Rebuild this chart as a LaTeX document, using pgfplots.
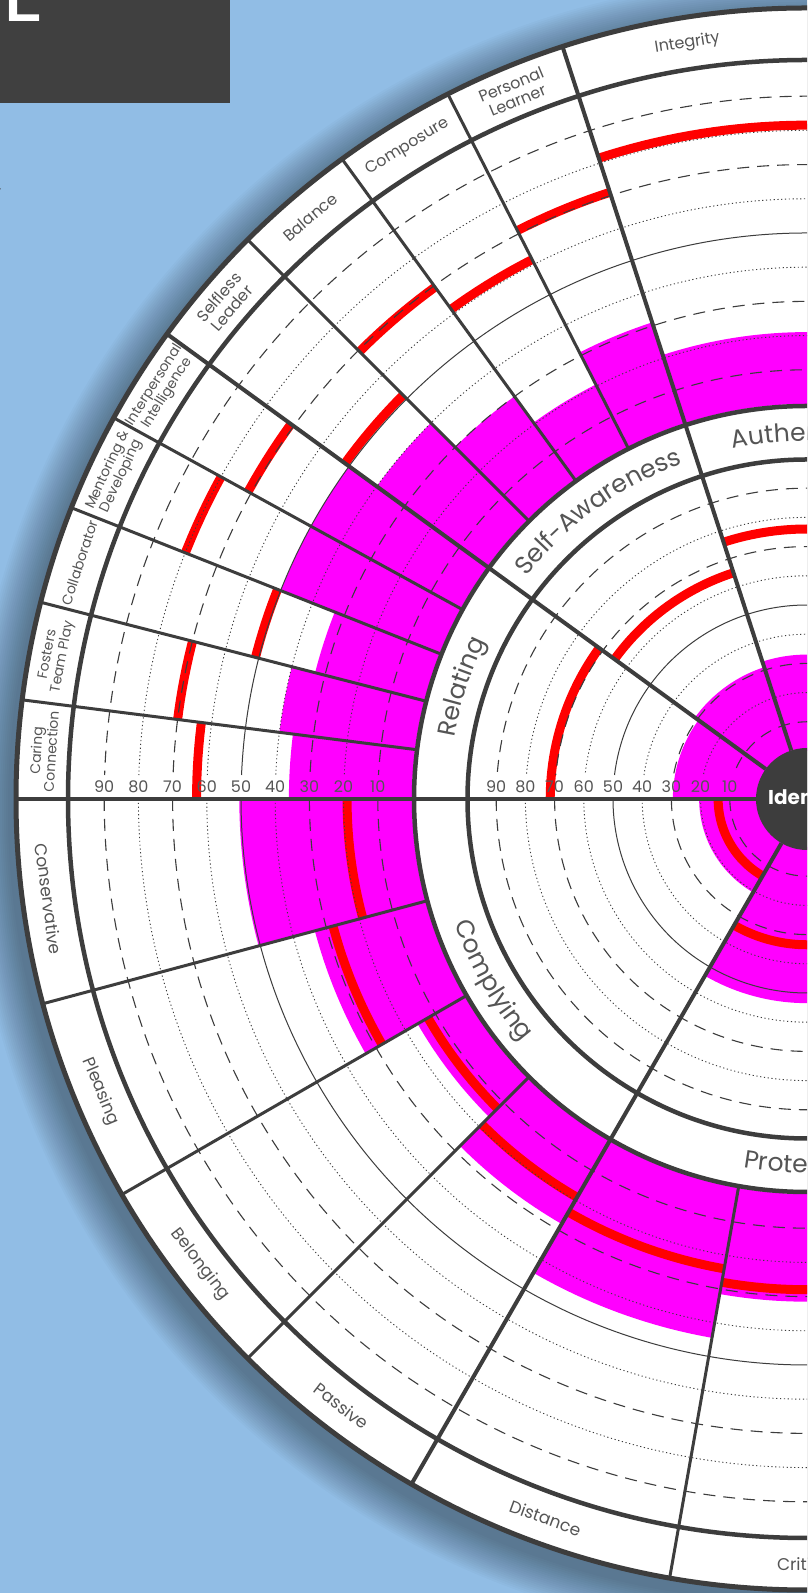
\documentclass[border=0pt]{standalone}
\usepackage{pgfplots}
\pgfplotsset{compat=1.18}
\usepackage{fontspec}
\setmainfont{Poppins}
\usetikzlibrary{decorations.text}

\definecolor{bgblue}{RGB}{145,189,229}
\definecolor{boxgray}{RGB}{64,64,64}
\definecolor{ink}{RGB}{61,61,61}
\definecolor{txt}{RGB}{85,85,85}
\definecolor{mag}{RGB}{255,0,255}
\definecolor{redl}{RGB}{255,0,0}

% points of an arc (angle,radius) appended to \pts
\newcommand\arcpts[3]{%
  \pgfplotsforeachungrouped \k in {0,...,36}{%
    \pgfmathsetmacro\myang{#1+(#2-#1)*\k/36}%
    \edef\pts{\pts(\myang,#3)}}}

% one sector: #1 a1, #2 a2, #3 radius of 0, #4 radius per point, #5 score, #6 red line
\newcommand\scorebar[6]{%
  \pgfmathsetmacro\scoreR{#3+#4*#5}%
  \pgfmathsetmacro\lineR{#3+#4*#6}%
  \def\pts{}\arcpts{#1}{#2}{\scoreR}\arcpts{#2}{#1}{#3}%
  \edef\myplot{\noexpand\addplot[magfill] coordinates {\pts};}\myplot
  \def\pts{}\arcpts{#1}{#2}{\lineR}%
  \edef\myplot{\noexpand\addplot[redline] coordinates {\pts};}\myplot}

\newcommand\catfont{\fontsize{25}{25}\selectfont\color{txt}}

\tikzset{
  gdash/.style={ink,line width=1.1pt,dash pattern=on 12pt off 8pt},
  gdot/.style={ink,line width=0.9pt,dash pattern=on 1.2pt off 2.6pt},
  gsolid/.style={ink,line width=1pt},
  divmajor/.style={ink,line width=4pt},
  divminor/.style={ink,line width=3pt},
  ring/.style={ink,line width=4.5pt},
  ticklab/.style={txt,inner sep=0,font=\fontsize{16}{16}\selectfont},
  sublab/.style={txt,inner sep=0,align=center,font=\fontsize{16}{17}\selectfont},
  rellab/.style={txt,inner sep=0,align=center,font=\fontsize{14}{15}\selectfont},
  lowlab/.style={txt,inner sep=0,font=\fontsize{17}{17}\selectfont},
}

\begin{document}
\begin{tikzpicture}[x=1pt,y=1pt]
\useasboundingbox (0,0) rectangle (807,1593);
\clip (0,0) rectangle (807,1593);
\fill[bgblue] (0,0) rectangle (807,1593);
\fill[boxgray] (0,1490) rectangle (230,1593);
\node[white,anchor=base west,inner sep=0,font=\fontsize{90}{90}\selectfont] at (2,1571) {L};
\node[ink,anchor=base west,inner sep=0,font=\fontsize{22}{22}\selectfont] at (-3,1401) {,};
% shadow
\foreach \i in {1,...,20}{\fill[black,opacity=0.02] (801,784) circle[radius=791+2*\i];}
\fill[white] (807,794) circle[radius=791];

\begin{axis}[
  at={(0,0)}, anchor=south west,
  scale only axis, width=807pt, height=1593pt,
  xmin=-807, xmax=0, ymin=-794, ymax=799,
  hide axis,
  magfill/.style={fill=mag,draw=none,data cs=polar,forget plot},
  redline/.style={redl,line width=9pt,data cs=polar,forget plot},
]
% outer ring: from angle, to angle, score, red line (percentile)
\scorebar{90}{108}{395}{3.42}{21}{81.5}     % Integrity
\scorebar{108}{117}{395}{3.42}{31}{71}      % Personal Learner
\scorebar{117}{126}{395}{3.42}{20.5}{61.5}  % Composure
\scorebar{126}{135}{395}{3.42}{30}{69.5}    % Balance
\scorebar{135}{144}{395}{3.42}{40}{51.5}    % Selfless Leader
\scorebar{144}{151.2}{395}{3.42}{50}{71}    % Interpersonal Intelligence
\scorebar{151.2}{158.4}{395}{3.42}{50}{80}  % Mentoring & Developing
\scorebar{158.4}{165.6}{395}{3.42}{33}{51}  % Collaborator
\scorebar{165.6}{172.8}{395}{3.42}{40}{70}  % Fosters Team Play
\scorebar{172.8}{180}{395}{3.42}{36}{63}    % Caring Connection
\scorebar{180}{195}{395}{3.42}{50.5}{19}    % Conservative
\scorebar{195}{210}{395}{3.42}{33.5}{28}    % Pleasing
\scorebar{210}{225}{395}{3.42}{16}{12.5}    % Belonging
\scorebar{225}{240}{395}{3.42}{28}{19}      % Passive
\scorebar{240}{260}{395}{3.42}{44.5}{24}    % Distance
\scorebar{260}{280}{395}{3.42}{31.5}{28}    % Critical
% inner ring
\scorebar{72}{108}{48}{2.92}{33}{76}        % Authenticity
\scorebar{108}{144}{48}{2.92}{31}{65}       % Self-Awareness
\scorebar{144}{180}{48}{2.92}{29.5}{71.5}   % Relating
\scorebar{180}{240}{48}{2.92}{20.5}{14}     % Complying
\scorebar{240}{300}{48}{2.92}{53.5}{33.5}   % Protecting
\end{axis}

\begin{scope}[shift={(807,794)}]
% grid circles
\foreach \v in {10,30,70,90}{
  \pgfmathsetmacro\rr{395+3.42*\v}\pgfmathsetmacro\ee{180-asin(24/\rr)}
  \draw[gdash] (88:\rr) arc[start angle=88,end angle=\ee,radius=\rr];
  \draw[gdash] (180:\rr) arc[start angle=180,end angle=272,radius=\rr];
  \pgfmathsetmacro\rr{48+2.92*\v}\pgfmathsetmacro\ee{180-asin(24/\rr)}
  \draw[gdash] (88:\rr) arc[start angle=88,end angle=\ee,radius=\rr];
  \draw[gdash] (180:\rr) arc[start angle=180,end angle=272,radius=\rr];
}
\foreach \v in {20,40,60,80}{
  \pgfmathsetmacro\rr{395+3.42*\v}\pgfmathsetmacro\ee{180-asin(24/\rr)}
  \draw[gdot] (88:\rr) arc[start angle=88,end angle=\ee,radius=\rr];
  \draw[gdot] (180:\rr) arc[start angle=180,end angle=272,radius=\rr];
  \pgfmathsetmacro\rr{48+2.92*\v}\pgfmathsetmacro\ee{180-asin(24/\rr)}
  \draw[gdot] (88:\rr) arc[start angle=88,end angle=\ee,radius=\rr];
  \draw[gdot] (180:\rr) arc[start angle=180,end angle=272,radius=\rr];
}
\foreach \v in {50}{
  \pgfmathsetmacro\rr{395+3.42*\v}\pgfmathsetmacro\ee{180-asin(24/\rr)}
  \draw[gsolid] (88:\rr) arc[start angle=88,end angle=\ee,radius=\rr];
  \draw[gsolid] (180:\rr) arc[start angle=180,end angle=272,radius=\rr];
  \pgfmathsetmacro\rr{48+2.92*\v}\pgfmathsetmacro\ee{180-asin(24/\rr)}
  \draw[gsolid] (88:\rr) arc[start angle=88,end angle=\ee,radius=\rr];
  \draw[gsolid] (180:\rr) arc[start angle=180,end angle=272,radius=\rr];
}
% scale numbers
\foreach \v in {10,20,...,90}{
  \pgfmathsetmacro\rr{395+3.42*\v}\node[ticklab] at (-\rr,12) {\v};
  \pgfmathsetmacro\rr{48+2.92*\v}\node[ticklab] at (-\rr,12) {\v};
}
% rings and dividers
\draw[ring] (0,0) circle[radius=339.5];
\draw[ring] (0,0) circle[radius=393];
\draw[ring] (0,0) circle[radius=739];
\draw[ink,line width=5pt] (0,0) circle[radius=791];
\foreach \a in {108,144,180,240}{\draw[divmajor] (\a:51) -- (\a:791);}
\foreach \a in {117,126,135,151.2,158.4,165.6,172.8,195,210,225,260}{\draw[divminor] (\a:393) -- (\a:791);}
\fill[ink] (0,0) circle[radius=51];
\node[white,anchor=west,inner sep=0,font=\bfseries\fontsize{20}{20}\selectfont] at (-39,0) {Identity};
% dimension names
\path[decorate,decoration={text along path,text align=center,text={|\catfont|Authenticity}}] (108:358) arc[start angle=108,end angle=72,radius=358];
\path[decorate,decoration={text along path,text align=center,text={|\catfont|Self-Awareness}}] (144:358) arc[start angle=144,end angle=108,radius=358];
\path[decorate,decoration={text along path,text align=center,text={|\catfont|Relating}}] (180:358) arc[start angle=180,end angle=144,radius=358];
\path[decorate,decoration={text along path,text align=center,text={|\catfont|Complying}}] (180:374) arc[start angle=180,end angle=240,radius=374];
\path[decorate,decoration={text along path,text align=center,text={|\catfont|Protecting}}] (240:374) arc[start angle=240,end angle=300,radius=374];
% sub-dimension names
\node[sublab,rotate=9] at (99:765) {Integrity};
\node[sublab,rotate=22.5] at (112.5:765) {Personal\\Learner};
\node[sublab,rotate=31.5] at (121.5:765) {Composure};
\node[sublab,rotate=40.5] at (130.5:765) {Balance};
\node[sublab,rotate=49.5] at (139.5:765) {Selfless\\Leader};
\node[rellab,rotate=57.6] at (147.6:765) {Interpersonal\\Intelligence};
\node[rellab,rotate=64.8] at (154.8:765) {Mentoring \&\\Developing};
\node[rellab,rotate=72] at (162:765) {Collaborator};
\node[rellab,rotate=79.2] at (169.2:765) {Fosters\\Team Play};
\node[rellab,rotate=86.4] at (176.4:765) {Caring\\Connection};
\node[lowlab,rotate=277.5] at (187.5:765) {Conservative};
\node[lowlab,rotate=292.5] at (202.5:765) {Pleasing};
\node[lowlab,rotate=307.5] at (217.5:765) {Belonging};
\node[lowlab,rotate=322.5] at (232.5:765) {Passive};
\node[lowlab,rotate=340] at (250:765) {Distance};
\node[lowlab,rotate=360] at (270:765) {Critical};
\end{scope}
\end{tikzpicture}
\end{document}
